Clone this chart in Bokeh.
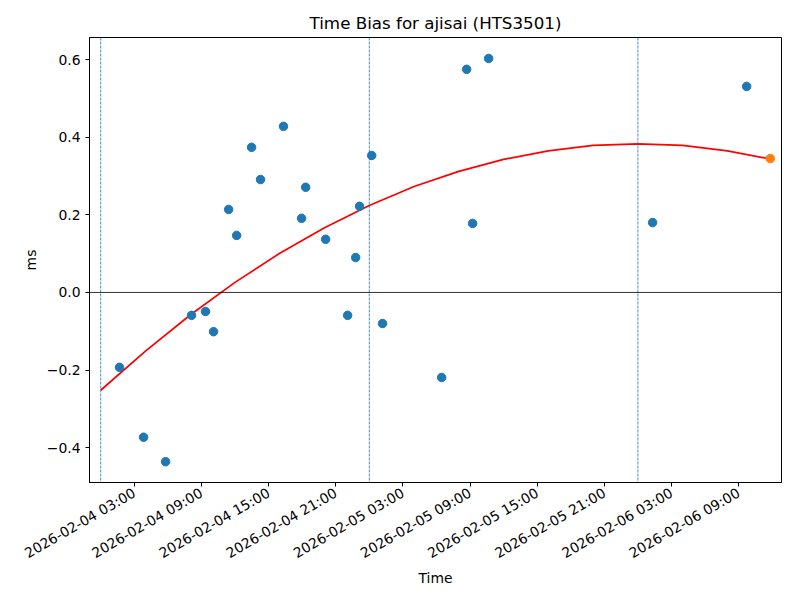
import pandas as pd
from math import pi
from bokeh.plotting import figure
from bokeh.models import Range1d, FixedTicker, DatetimeTickFormatter, CustomJSTickFormatter, Span
from bokeh.embed import file_html
from bokeh.resources import INLINE

# ---- data ----
obs_times = [
    "2026-02-04 01:41", "2026-02-04 03:50", "2026-02-04 05:48", "2026-02-04 08:07",
    "2026-02-04 09:22", "2026-02-04 10:05", "2026-02-04 11:26", "2026-02-04 12:09",
    "2026-02-04 13:29", "2026-02-04 14:17", "2026-02-04 16:20", "2026-02-04 17:57",
    "2026-02-04 18:19", "2026-02-04 20:06", "2026-02-04 22:04", "2026-02-04 22:47",
    "2026-02-04 23:08", "2026-02-05 00:13", "2026-02-05 01:11", "2026-02-05 06:28",
    "2026-02-05 08:42", "2026-02-05 10:40", "2026-02-05 09:14", "2026-02-06 01:19",
    "2026-02-06 09:43",
]
obs_bias = [
    -0.193, -0.373, -0.436, -0.059,
    -0.049, -0.101, 0.214, 0.147,
    0.374, 0.291, 0.428, 0.191,
    0.271, 0.137, -0.059, 0.090,
    0.222, 0.353, -0.080, -0.219,
    0.575, 0.603, 0.178, 0.180,
    0.531,
]
pred_time = ["2026-02-06 11:50"]
pred_bias = [0.345]

fit_times = [
    "2026-02-04 00:00", "2026-02-04 04:00", "2026-02-04 08:00", "2026-02-04 12:00",
    "2026-02-04 16:00", "2026-02-04 20:00", "2026-02-05 00:00", "2026-02-05 04:00",
    "2026-02-05 08:00", "2026-02-05 12:00", "2026-02-05 16:00", "2026-02-05 20:00",
    "2026-02-06 00:00", "2026-02-06 04:00", "2026-02-06 08:00", "2026-02-06 11:50",
]
fit_bias = [
    -0.252, -0.151, -0.058, 0.026,
    0.101, 0.167, 0.224, 0.273,
    0.312, 0.343, 0.365, 0.379,
    0.383, 0.379, 0.365, 0.344,
]
day_marks = ["2026-02-04 00:00", "2026-02-05 00:00", "2026-02-06 00:00"]
x_tick_times = [
    "2026-02-04 03:00", "2026-02-04 09:00", "2026-02-04 15:00", "2026-02-04 21:00",
    "2026-02-05 03:00", "2026-02-05 09:00", "2026-02-05 15:00", "2026-02-05 21:00",
    "2026-02-06 03:00", "2026-02-06 09:00",
]
y_ticks = [-0.4, -0.2, 0.0, 0.2, 0.4, 0.6]
x_limits = ["2026-02-03 23:00", "2026-02-06 12:50"]
y_limits = [-0.4897, 0.657]


def ms(s):
    return int(pd.Timestamp(s).value // 10**6)


FONT = "DejaVu Sans"
BLUE = "#1f77b4"
ORANGE = "#ff7f0e"

p = figure(
    width=800, height=600,
    output_backend="svg", toolbar_location=None,
    x_axis_type="datetime",
    x_range=Range1d(ms(x_limits[0]), ms(x_limits[1])),
    y_range=Range1d(y_limits[0], y_limits[1]),
    min_border_left=89, min_border_right=19, min_border_top=37, min_border_bottom=118,
    title="Time Bias for ajisai (HTS3501)",
)
p.background_fill_color = "white"
p.border_fill_color = "white"
p.outline_line_color = "black"
p.outline_line_width = 1
p.xgrid.visible = False
p.ygrid.visible = False

p.title.align = "center"
p.title.text_font = FONT
p.title.text_font_size = "16.7px"
p.title.text_font_style = "normal"
p.title.text_color = "black"

# vertical day marks
for d in day_marks:
    p.add_layout(Span(location=ms(d), dimension="height", line_color=BLUE,
                      line_width=0.8, line_dash="3 1"))
# zero line
p.add_layout(Span(location=0, dimension="width", line_color="black", line_width=0.8))

p.line([pd.Timestamp(t) for t in fit_times], fit_bias, line_color="red", line_width=1.7)
p.scatter([pd.Timestamp(t) for t in obs_times], obs_bias, size=8.5,
          fill_color=BLUE, line_color=BLUE)
p.scatter([pd.Timestamp(t) for t in pred_time], pred_bias, size=8.5,
          fill_color=ORANGE, line_color=ORANGE)

xa = p.xaxis[0]
xa.ticker = FixedTicker(ticks=[ms(t) for t in x_tick_times])
xa.formatter = DatetimeTickFormatter(hours="%Y-%m-%d %H:%M", days="%Y-%m-%d %H:%M",
                                     hourmin="%Y-%m-%d %H:%M")
xa.major_label_orientation = pi / 6
xa.axis_label = "Time"
xa.axis_label_standoff = -1

ya = p.yaxis[0]
ya.ticker = FixedTicker(ticks=y_ticks)
ya.formatter = CustomJSTickFormatter(code="return tick.toFixed(1).replace('-', '\\u2212');")
ya.axis_label = "ms"

for ax in (xa, ya):
    ax.axis_line_color = "black"
    ax.major_tick_line_color = "black"
    ax.major_tick_out = 4
    ax.major_tick_in = 0
    ax.minor_tick_line_color = None
    ax.major_label_text_font = FONT
    ax.major_label_text_font_size = "13.9px"
    ax.major_label_text_color = "black"
    ax.axis_label_text_font = FONT
    ax.axis_label_text_font_size = "13.9px"
    ax.axis_label_text_font_style = "normal"
    ax.axis_label_text_color = "black"

open("out.html", "w").write(file_html(p, INLINE))
